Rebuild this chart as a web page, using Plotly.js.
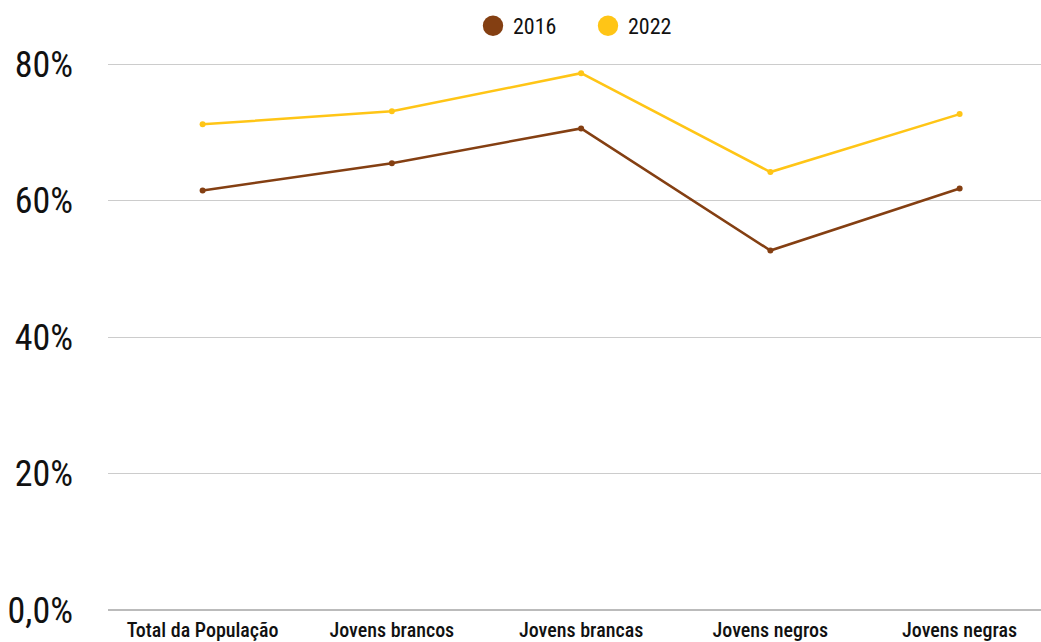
<!DOCTYPE html>
<html><head><meta charset="utf-8">
<script src="https://cdn.plot.ly/plotly-3.0.1.min.js"></script>
<style>html,body{margin:0;padding:0;background:#fff}#c{width:1041px;height:642px}</style>
</head><body><div id="c"></div>
<script>
const categories = ["Total da População","Jovens brancos","Jovens brancas","Jovens negros","Jovens negras"];
const values2016 = [61.5, 65.5, 70.6, 52.7, 61.8];
const values2022 = [71.2, 73.1, 78.7, 64.2, 72.7];
const yTickVals = [0, 20, 40, 60, 80];
const yTickText = ["0,0%", "20%", "40%", "60%", "80%"];
const FONT = "'Roboto Condensed', 'DejaVu Sans Condensed', 'Liberation Sans Narrow', sans-serif";

const traces = [
  {x: categories, y: values2016, name: "2016", type: "scatter", mode: "lines+markers",
   line: {color: "#843f12", width: 2.5}, marker: {color: "#843f12", size: 6}},
  {x: categories, y: values2022, name: "2022", type: "scatter", mode: "lines+markers",
   line: {color: "#ffc516", width: 2.5}, marker: {color: "#ffc516", size: 6}}
];
const layout = {
  width: 1041, height: 642,
  margin: {l: 108, r: 0, t: 37, b: 32, autoexpand: false},
  paper_bgcolor: "#fff", plot_bgcolor: "#fff",
  font: {family: FONT, color: "#111"},
  showlegend: true,
  legend: {orientation: "h", x: 473/1041, xanchor: "left", xref: "container",
           y: 1 - 26/642, yanchor: "middle", yref: "container",
           entrywidth: 70, entrywidthmode: "pixels",
           font: {size: 22, family: FONT, color: "#111"}, itemwidth: 30},
  xaxis: {type: "category", range: [-0.5, 4.43], showgrid: false, zeroline: false,
          showline: false, ticks: "", tickfont: {size: 20, family: FONT, weight: 500, color: "#111"},
          automargin: false, ticklabelstandoff: 6},
  yaxis: {range: [0, 84], tickvals: yTickVals, ticktext: yTickText, showgrid: true,
          gridcolor: "#cccccc", gridwidth: 1, zeroline: true, zerolinecolor: "#bbbbbb", zerolinewidth: 2,
          showline: false, ticks: "", tickfont: {size: 36, family: FONT, color: "#111"}, automargin: false,
          ticklabelstandoff: 34}
};
Plotly.newPlot("c", traces, layout, {displayModeBar: false, staticPlot: true}).then(() => {
  document.querySelectorAll('.legend .legendlines').forEach(g => g.style.display = 'none');
  document.querySelectorAll('.legend .legendpoints path.scatterpts').forEach(p => {
    const t = p.getAttribute('transform') || '';
    p.setAttribute('transform', t + ' scale(3.4)');
  });
});
</script></body></html>
